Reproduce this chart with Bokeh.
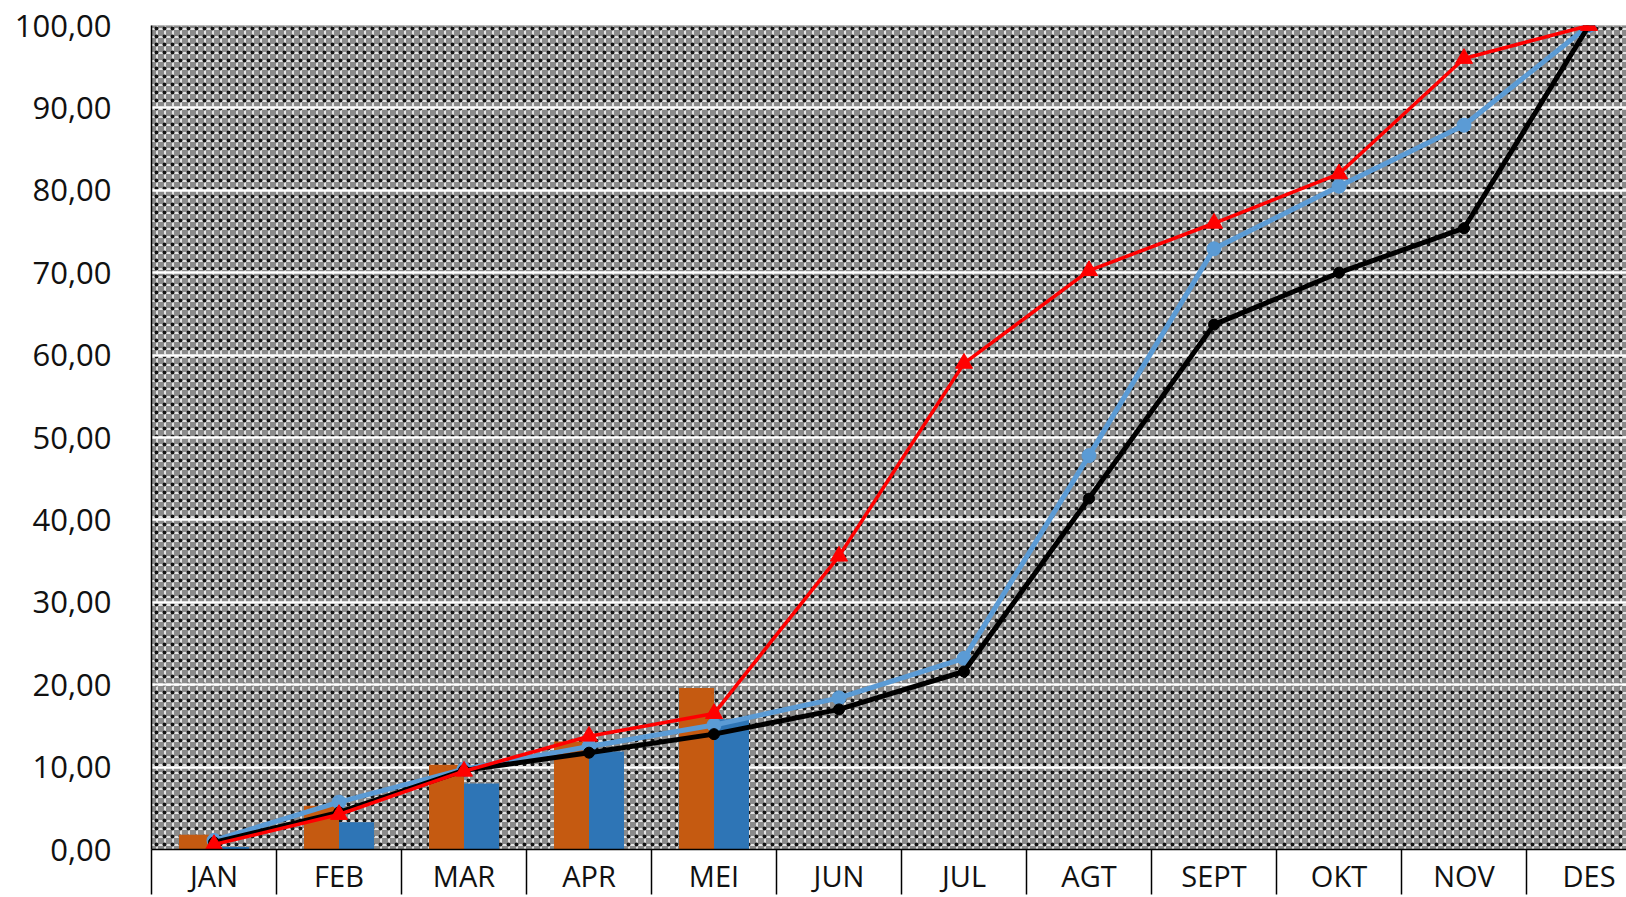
from bokeh.plotting import figure
from bokeh.models import Range1d, FixedTicker, CustomJSTickFormatter, BoxAnnotation
from bokeh.embed import file_html
from bokeh.resources import INLINE

months = ["JAN", "FEB", "MAR", "APR", "MEI", "JUN", "JUL", "AGT", "SEPT", "OKT", "NOV", "DES"]
bar_orange = [1.8, 5.3, 10.3, 13.1, 19.6, None, None, None, None, None, None, None]
bar_blue = [0.3, 3.3, 8.0, 11.9, 15.8, None, None, None, None, None, None, None]
line_black = [0.85, 4.5, 9.6, 11.75, 14.0, 17.0, 21.6, 42.6, 63.7, 70.0, 75.4, 100.0]
line_blue = [1.1, 5.75, 9.75, 12.5, 15.1, 18.4, 23.2, 47.8, 72.9, 80.5, 87.9, 100.0]
line_red = [0.6, 4.25, 9.5, 13.75, 16.5, 35.6, 59.0, 70.25, 76.0, 82.0, 96.0, 100.0]
y_ticks = [0, 10, 20, 30, 40, 50, 60, 70, 80, 90, 100]

nan = float("nan")
xc = [i + 0.5 for i in range(len(months))]
bounds = list(range(len(months) + 1))
orange = [nan if v is None else v for v in bar_orange]
blue = [nan if v is None else v for v in bar_blue]

p = figure(width=1626, height=897, x_range=Range1d(0, 11.8), y_range=Range1d(0, 100),
           output_backend="svg", toolbar_location=None,
           min_border_left=151, min_border_right=0, min_border_top=25, min_border_bottom=45)
p.outline_line_color = None
p.background_fill_color = "#8a8a8a"
p.border_fill_color = "white"

bg1 = BoxAnnotation(fill_color="#8a8a8a", fill_alpha=1.0, line_color=None,
                    hatch_pattern="+", hatch_color="white", hatch_alpha=0.75,
                    hatch_scale=8, hatch_weight=2, level="underlay")
bg2 = BoxAnnotation(fill_alpha=0.0, line_color=None,
                    hatch_pattern=".", hatch_color="black", hatch_alpha=0.9,
                    hatch_scale=8, hatch_weight=2, level="underlay")
p.center = [bg1, bg2] + list(p.center)

p.xgrid.visible = False
p.ygrid.ticker = FixedTicker(ticks=y_ticks)
p.ygrid.grid_line_color = "white"
p.ygrid.grid_line_width = 2.5

# bars
p.vbar(x=[v - 0.14 for v in xc], top=orange, width=0.28, bottom=0, fill_color="#C55A11", line_color=None)
p.vbar(x=[v + 0.14 for v in xc], top=blue, width=0.28, bottom=0, fill_color="#2E75B6", line_color=None)

# lines
p.line(xc, line_blue, line_color="#5B9BD5", line_width=5)
p.scatter(xc, line_blue, marker="circle", size=14, fill_color="#5B9BD5", line_color="#5B9BD5")
p.line(xc, line_black, line_color="black", line_width=5)
p.scatter(xc, line_black, marker="circle", size=11, fill_color="black", line_color="black")
p.line(xc, line_red, line_color="#FF0000", line_width=3.5)
p.scatter(xc, line_red, marker="triangle", size=17, fill_color="#FF0000", line_color="#FF0000")

# y axis
p.yaxis.ticker = FixedTicker(ticks=y_ticks)
p.yaxis.formatter = CustomJSTickFormatter(code="return tick.toFixed(2).replace('.', ',');")
p.yaxis.major_tick_line_color = None
p.yaxis.minor_tick_line_color = None
p.yaxis.axis_line_color = "black"
p.yaxis.axis_line_width = 1.5
p.yaxis.major_label_standoff = 34
p.yaxis.major_label_text_font = "Open Sans"
p.yaxis.major_label_text_font_size = "31px"
p.yaxis.major_label_text_color = "#111111"

# x axis as category table
p.xaxis.ticker = FixedTicker(ticks=xc, minor_ticks=bounds)
p.xaxis.formatter = CustomJSTickFormatter(args=dict(months=months),
                                         code="return months[Math.round(tick - 0.5)] || '';")
p.xaxis.major_tick_line_color = None
p.xaxis.minor_tick_in = 0
p.xaxis.minor_tick_out = 45
p.xaxis.minor_tick_line_color = "black"
p.xaxis.minor_tick_line_width = 1.5
p.xaxis.axis_line_color = "black"
p.xaxis.axis_line_width = 1.5
p.xaxis.major_label_standoff = -39
p.xaxis.major_label_text_font = "Open Sans"
p.xaxis.major_label_text_font_size = "29px"
p.xaxis.major_label_text_color = "#111111"

open("out.html", "w").write(file_html(p, INLINE))
